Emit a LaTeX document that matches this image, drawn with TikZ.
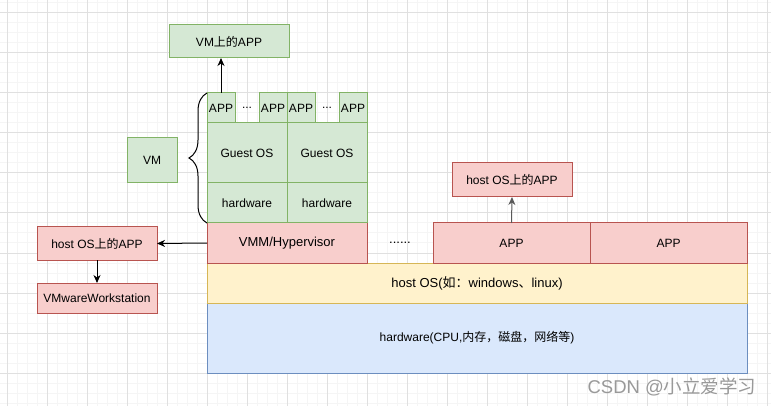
\documentclass[tikz,border=0pt]{standalone}
\usepackage{fontspec}
\setmainfont{Liberation Sans}
\newfontfamily\cjk{Noto Sans CJK SC}
\usetikzlibrary{arrows.meta,decorations.pathreplacing}
\definecolor{vmfill}{HTML}{D5E8D4}
\definecolor{vmline}{HTML}{82B366}
\definecolor{appfill}{HTML}{F8CECC}
\definecolor{appline}{HTML}{B85450}
\definecolor{osfill}{HTML}{FFF2CC}
\definecolor{osline}{HTML}{D6B656}
\definecolor{hwfill}{HTML}{DAE8FC}
\definecolor{hwline}{HTML}{6C8EBF}

\begin{document}
\begin{tikzpicture}[
    x=1pt, y=-1pt,
    >={Stealth[length=8pt, width=7pt, inset=2.5pt]},
    font=\fontsize{12}{14}\selectfont,
    big/.style={font=\fontsize{13}{15}\selectfont},
    block/.style={
        rectangle,
        draw,
        line width=1pt,
        inner sep=0pt,
        outer sep=0pt,
        align=center
    },
    vmblock/.style={block, fill=vmfill, draw=vmline},
    appblock/.style={block, fill=appfill, draw=appline},
    osblock/.style={block, fill=osfill, draw=osline},
    hwblock/.style={block, fill=hwfill, draw=hwline},
    wire/.style={->, line width=1pt},
    dots/.style={inner sep=0pt}
]
\useasboundingbox (0,0) rectangle (771,406);

% ---------------------------------------------------------------- Grid
\fill[white] (0,0) rectangle (771,406);
\foreach \x in {7,17,...,767} \draw[black!4, line width=1pt] (\x,0) -- (\x,406);
\foreach \y in {3,13,...,403} \draw[black!4, line width=1pt] (0,\y) -- (771,\y);
\foreach \x in {7,47,...,767} \draw[black!12, line width=1pt] (\x,0) -- (\x,406);
\foreach \y in {13,53,...,403} \draw[black!12, line width=1pt] (0,\y) -- (771,\y);

% ---------------------------------------------------------------- Host stack
\node[hwblock, minimum width=540pt, minimum height=70pt] (hw) at (477,338)
    {hardware(CPU,{\cjk 内存，磁盘，网络等})};
\node[osblock, big, minimum width=540pt, minimum height=40pt] (hostos) at (477,283)
    {host OS({\cjk 如：}windows{\cjk 、}linux)};
\node[appblock, big, minimum width=160pt, minimum height=40pt] (vmm)  at (287,243) {VMM/Hypervisor};
\node[appblock, minimum width=157pt, minimum height=40pt] (appA) at (511.5,243) {APP};
\node[appblock, minimum width=157pt, minimum height=40pt] (appB) at (668.5,243) {APP};
\node[dots, big] (hostdots) at (400,243) {......};

% ---------------------------------------------------------------- Virtual machines
\node[vmblock, minimum width=80pt, minimum height=40pt] (vmhw1)    at (247,203) {hardware};
\node[vmblock, minimum width=80pt, minimum height=40pt] (vmhw2)    at (327,203) {hardware};
\node[vmblock, minimum width=80pt, minimum height=60pt] (guestos1) at (247,153) {Guest OS};
\node[vmblock, minimum width=80pt, minimum height=60pt] (guestos2) at (327,153) {Guest OS};
\node[vmblock, minimum width=28pt, minimum height=30pt] (vmapp1) at (221,108) {APP};
\node[vmblock, minimum width=28pt, minimum height=30pt] (vmapp2) at (273,108) {APP};
\node[vmblock, minimum width=28pt, minimum height=30pt] (vmapp3) at (301,108) {APP};
\node[vmblock, minimum width=28pt, minimum height=30pt] (vmapp4) at (353,108) {APP};
\node[dots] (vmdots1) at (247,108) {...};
\node[dots] (vmdots2) at (327,108) {...};

% ---------------------------------------------------------------- Labels
\node[vmblock, minimum width=120pt, minimum height=33pt] (vmtop)  at (229,41.5) {VM{\cjk 上的}APP};
\node[vmblock, minimum width=50pt, minimum height=45pt]  (vmname) at (152,160.5) {VM};
\node[appblock, minimum width=120pt, minimum height=34pt] (hostappR) at (512,180) {host OS{\cjk 上的}APP};
\node[appblock, minimum width=120pt, minimum height=33pt] (hostappL) at (97,243.5) {host OS{\cjk 上的}APP};
\node[appblock, minimum width=120pt, minimum height=30pt] (vmware)   at (97,298) {VMwareWorkstation};

% brace round the VM column
\coordinate (braceB) at (207,223);
\coordinate (braceT) at (207,93);
\draw[line width=1pt, decorate, decoration={brace, amplitude=18pt}] (braceB) -- (braceT);

% ---------------------------------------------------------------- Connections
\draw[wire] (vmapp1.north) -- (vmapp1.north |- vmtop.south);
\draw[wire] (vmm.west) -- (hostappL.east);
\draw[wire] (hostappL.south) -- (vmware.north);
\draw[wire, black!65] (appA.north) -- (hostappR.south);

% watermark
\node[text=black!40, font=\fontsize{18.5}{20}\selectfont] (mark) at (672,387) {CSDN @{\cjk 小立爱学习}};

\end{tikzpicture}
\end{document}
